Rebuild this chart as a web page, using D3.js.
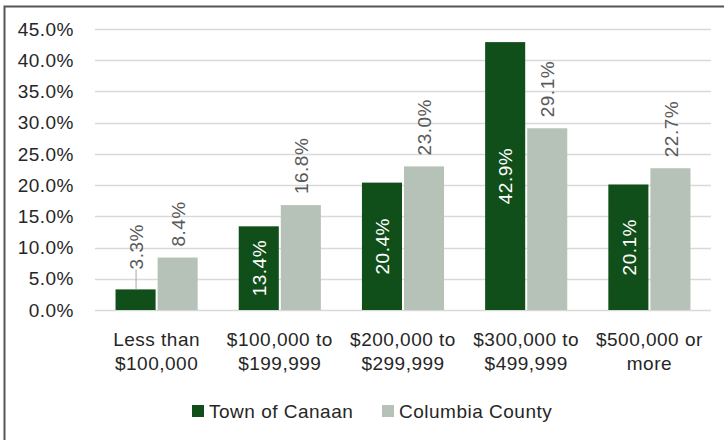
<!DOCTYPE html>
<html>
<head>
<meta charset="utf-8">
<script src="https://cdn.jsdelivr.net/npm/d3@7"></script>
<style>
  html, body { margin: 0; padding: 0; background: #fff; }
  svg { display: block; }
  text { font-family: 'Liberation Sans', Arial, sans-serif; font-size: 19px; letter-spacing: 0.5px; }
</style>
</head>
<body>
<svg id="chart" width="724" height="440"></svg>
<script>
// data
const categories = [["Less than", "$100,000"], ["$100,000 to", "$199,999"], ["$200,000 to", "$299,999"], ["$300,000 to", "$499,999"], ["$500,000 or", "more"]];
const seriesNames = ["Town of Canaan", "Columbia County"];
const canaan = [3.3, 13.4, 20.4, 42.9, 20.1];
const columbia = [8.4, 16.8, 23.0, 29.1, 22.7];
const yTicks = [0, 5, 10, 15, 20, 25, 30, 35, 40, 45];
const colors = ["#114f1a", "#b6c2b7"];

const W = 724, H = 440;
const margin = {top: 29, right: 13, bottom: 130, left: 95};
const svg = d3.select("#chart");

// frame (right and bottom edges fall outside the picture)
svg.append("rect")
    .attr("x", 4.5).attr("y", 6.5)
    .attr("width", W + 10).attr("height", H)
    .attr("fill", "none").attr("stroke", "#555").attr("stroke-width", 2);

const x = d3.scaleBand()
    .domain(d3.range(categories.length))
    .range([margin.left, W - margin.right])
    .paddingInner(1 / 3).paddingOuter(1 / 6);

const xs = d3.scaleBand()
    .domain([0, 1])
    .range([0, x.bandwidth()]);

const y = d3.scaleLinear()
    .domain([0, 45])
    .range([310, margin.top]);

// gridlines
svg.append("g")
    .selectAll("line")
    .data(yTicks)
    .join("line")
    .attr("x1", margin.left).attr("x2", W - margin.right)
    .attr("y1", d => Math.round(y(d)) + 0.5).attr("y2", d => Math.round(y(d)) + 0.5)
    .attr("stroke", "#d9d9d9").attr("stroke-width", 1.5);

// y tick labels
svg.append("g")
    .selectAll("text")
    .data(yTicks)
    .join("text")
    .attr("x", 74)
    .attr("y", d => y(d))
    .attr("dy", "0.35em")
    .attr("text-anchor", "end")
    .attr("fill", "#262626")
    .text(d => d.toFixed(1) + "%");

const series = [canaan, columbia];

series.forEach((vals, si) => {
    const g = svg.append("g");
    g.selectAll("rect")
        .data(vals)
        .join("rect")
        .attr("x", (d, i) => x(i) + xs(si) + (si === 1 ? 1 : 0))
        .attr("width", xs.bandwidth() - 1)
        .attr("y", d => y(d))
        .attr("height", d => y(0) - y(d))
        .attr("fill", colors[si]);

    const inside = d => si === 0 && d > 10;

    g.selectAll("text")
        .data(vals)
        .join("text")
        .attr("transform", (d, i) => {
            const cx = x(i) + xs(si) + xs.bandwidth() / 2 + (si === 1 ? 1 : 0);
            const cy = inside(d) ? (y(d) + y(0)) / 2 : (si === 0 ? y(d) - 20 : y(d) - 11);
            return `translate(${cx},${cy}) rotate(-90)`;
        })
        .attr("text-anchor", d => inside(d) ? "middle" : "start")
        .attr("dy", "0.35em")
        .attr("fill", d => inside(d) ? "#ffffff" : "#595959")
        .text(d => d.toFixed(1) + "%");

    // leader line for the small label placed above its bar
    if (si === 0) {
        g.selectAll("line")
            .data(vals.map((d, i) => ({d, i})).filter(o => !inside(o.d)))
            .join("line")
            .attr("x1", o => x(o.i) + xs(0) + xs.bandwidth() / 2)
            .attr("x2", o => x(o.i) + xs(0) + xs.bandwidth() / 2)
            .attr("y1", o => y(o.d))
            .attr("y2", o => y(o.d) - 20)
            .attr("stroke", "#a6a6a6").attr("stroke-width", 1);
    }
});

// category labels
const cat = svg.append("g")
    .selectAll("text")
    .data(categories)
    .join("text")
    .attr("text-anchor", "middle")
    .attr("fill", "#262626");
cat.each(function(lines, i) {
    d3.select(this).selectAll("tspan")
        .data(lines)
        .join("tspan")
        .attr("x", x(i) + x.bandwidth() / 2)
        .attr("y", (l, j) => 346 + j * 24)
        .text(l => l);
});

// legend
const legend = svg.append("g");
const legendX = [192, 382];
seriesNames.forEach((name, si) => {
    legend.append("rect")
        .attr("x", legendX[si]).attr("y", 405)
        .attr("width", 12).attr("height", 12)
        .attr("fill", colors[si]);
    legend.append("text")
        .attr("x", legendX[si] + 17).attr("y", 411)
        .attr("dy", "0.35em")
        .attr("fill", "#262626")
        .text(name);
});
</script>
</body>
</html>
